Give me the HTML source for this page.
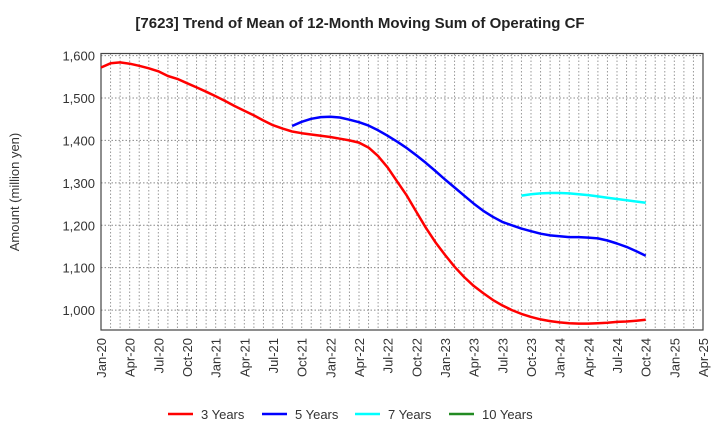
<!DOCTYPE html>
<html><head><meta charset="utf-8"><style>
body{margin:0;background:#fff;font-family:"Liberation Sans",sans-serif;}
svg text{font-family:"Liberation Sans",sans-serif;fill:#333;}
</style></head><body>
<svg id="chart" width="720" height="440">
<text x="360" y="28" text-anchor="middle" font-size="15" font-weight="bold" style="fill:#222">[7623]  Trend of Mean of 12-Month Moving Sum of Operating CF</text>
<text transform="translate(19,192) rotate(-90)" text-anchor="middle" font-size="13">Amount (million yen)</text>
<g id="grid"></g><g id="axes"></g><g id="series"></g>
<g id="legend"></g>
</svg>
<script>
const xLabels=["Jan-20","Apr-20","Jul-20","Oct-20","Jan-21","Apr-21","Jul-21","Oct-21","Jan-22","Apr-22","Jul-22","Oct-22","Jan-23","Apr-23","Jul-23","Oct-23","Jan-24","Apr-24","Jul-24","Oct-24","Jan-25","Apr-25"];
const yTicks=[1000,1100,1200,1300,1400,1500,1600];
const s3Start=0;
const s3=[1572,1582,1584,1581,1576,1570,1563,1552,1545,1535,1525,1515,1504,1493,1481,1470,1459,1447,1436,1428,1421,1417,1414,1411,1408,1404,1400,1395,1383,1363,1336,1303,1270,1232,1194,1160,1130,1102,1078,1057,1040,1024,1011,1000,991,984,978,974,971,969,968,968,969,970,972,973,975,977];
const s5Start=20;
const s5=[1434,1444,1451,1455,1456,1454,1449,1443,1435,1424,1411,1397,1382,1365,1347,1328,1308,1289,1270,1251,1234,1220,1208,1200,1192,1186,1180,1176,1174,1172,1172,1171,1169,1164,1157,1149,1139,1128];
const s7Start=44;
const s7=[1270,1273,1275,1276,1276,1275,1273,1271,1268,1265,1262,1259,1256,1253];
const s10Start=0;
const s10=[];
const L=101,R=703,T=53.5,B=330,yMin=953,yMax=1605,nMonths=63;
const X=m=>L+(R-L)*m/nMonths;
const Y=v=>B-(B-T)*(v-yMin)/(yMax-yMin);
const NS="http://www.w3.org/2000/svg";
function mk(tag,attrs,parent){const e=document.createElementNS(NS,tag);for(const k in attrs)e.setAttribute(k,attrs[k]);parent.appendChild(e);return e;}
const grid=document.getElementById('grid'),axes=document.getElementById('axes'),series=document.getElementById('series'),legend=document.getElementById('legend');
for(let m=1;m<nMonths;m++){const l=mk('line',{x1:X(m),x2:X(m),y1:T,y2:B,stroke:'#999','stroke-dasharray':'1.5,2','stroke-width':1},grid);

}
yTicks.forEach(v=>{const l=mk('line',{x1:L,x2:R,y1:Y(v),y2:Y(v),stroke:'#888','stroke-dasharray':'1.5,2','stroke-width':1},grid);


const t=mk('text',{x:L-6,y:Y(v)+5,'text-anchor':'end','font-size':13},axes);
t.textContent=v.toLocaleString('en-US');

});
const frame=mk('rect',{x:L,y:T,width:R-L,height:B-T,fill:'none',stroke:'#444','stroke-width':1.2},axes);


xLabels.forEach((lab,i)=>{const x=X(i*3);const t=mk('text',{transform:`translate(${x+5},${B+8}) rotate(-90)`,'text-anchor':'end','font-size':13},axes);
t.textContent=lab;

});
function draw(arr,start,color,name){if(!arr.length)return;const d=arr.map((v,i)=>(i?'L':'M')+X(start+i).toFixed(1)+','+Y(v).toFixed(1)).join(' ');
const p=mk('path',{d:d,fill:'none',stroke:color,'stroke-width':2.5,'stroke-linejoin':'round'},series);

}
draw(s3,s3Start,'#ff0000','series-3-years');
draw(s5,s5Start,'#0000ff','series-5-years');
draw(s7,s7Start,'#00ffff','series-7-years');
draw(s10,s10Start,'#228b22','series-10-years');
const leg=[["3 Years","#ff0000",168],["5 Years","#0000ff",262],["7 Years","#00ffff",355],["10 Years","#228b22",449]];
leg.forEach(([lab,c,x])=>{const g=mk('g',{},legend);


mk('line',{x1:x,x2:x+25,y1:414,y2:414,stroke:c,'stroke-width':2.5},g);
const t=mk('text',{x:x+33,y:419,'font-size':13},g);t.textContent=lab;});
</script>
</body></html>
